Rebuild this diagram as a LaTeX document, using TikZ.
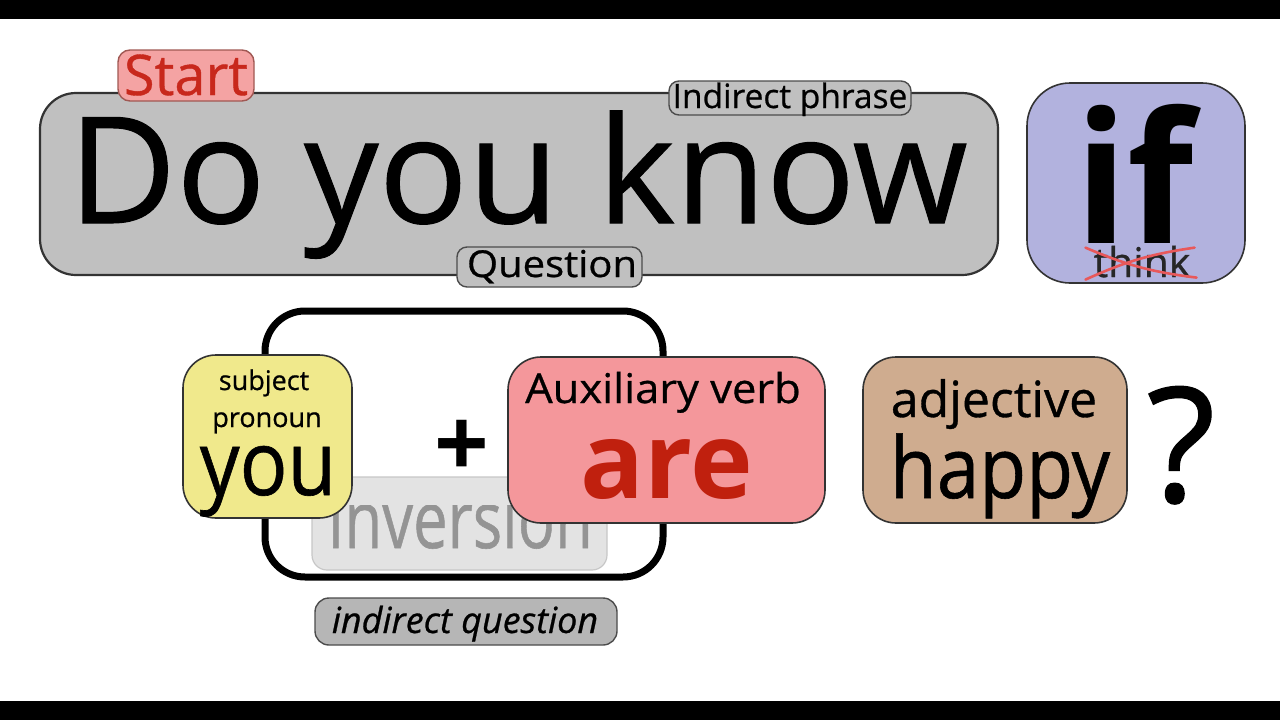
\documentclass[tikz,border=0pt]{standalone}
\usepackage{fontspec}
\setmainfont{Open Sans}
\newfontfamily\medfont{Open Sans}[FakeBold=0.7]
\usepackage{xcolor}
\definecolor{boxgray}{HTML}{C0C0C0}
\definecolor{startpink}{HTML}{F4A3A3}
\definecolor{startred}{HTML}{C8281C}
\definecolor{iflilac}{HTML}{B2B2DE}
\definecolor{pronyellow}{HTML}{F0E98C}
\definecolor{auxpink}{HTML}{F4979B}
\definecolor{arered}{HTML}{C0200E}
\definecolor{adjtan}{HTML}{CFAC8F}
\definecolor{invgray}{HTML}{E3E3E3}
\definecolor{crossred}{HTML}{E8585A}

\newcommand{\fsz}[1]{\fontsize{#1}{#1}\selectfont}

\tikzset{
	box/.style={draw=black!80, line width=1.6pt, rounded corners=33pt, inner sep=0pt},
	tag/.style={draw=black!70, line width=1.4pt, rounded corners=10pt, inner sep=0pt},
	word/.style={inner sep=0pt, anchor=base, font=\medfont},
	heavy/.style={font=\rmfamily\bfseries},
	strike/.style={draw=crossred, line width=2.6pt, line cap=round},
}

\begin{document}
\begin{tikzpicture}[x=1pt, y=-1pt]
	\fill[white] (0,0) rectangle (1280,720);
	\fill[black] (0,0) rectangle (1280,19);
	\fill[black] (0,701) rectangle (1280,720);
	% indirect phrase
	\node[box, fill=boxgray, rounded corners=36pt, line width=2.2pt,
		minimum width=958pt, minimum height=182pt] (phrase) at (519,184) {};
	\node[word] (doyouknow) at (518,223) {\fsz{148}Do you know};
	\node[tag, fill=startpink, draw=startred!45!gray, rounded corners=12pt,
		minimum width=136pt, minimum height=51pt] (starttag) at (186,75.5) {};
	\node[word, text=startred] (start) at (186,95) {\fsz{56}Start};
	\node[tag, fill=boxgray, minimum width=242pt, minimum height=34pt] (phrasetag) at (790,98) {};
	\node[word] (indphrase) at (790,108) {\fsz{33.5}Indirect phrase};
	\node[tag, fill=boxgray, minimum width=185pt, minimum height=40pt] (questiontag) at (549.5,267) {};
	\node[word] (question) at (552,277) {\scalebox{1.08}[1]{\fsz{37}Question}};
	% if
	\node[box, fill=iflilac, rounded corners=43pt, minimum width=218pt, minimum height=200pt] (ifbox) at (1136,183) {};
	\node[word, heavy] (if) at (1135,243) {\scalebox{0.94}[1]{\fsz{182}if}};
	\node[word, text=black!85] (think) at (1142,277) {\fsz{41}think};
	\draw[strike] ([xshift=-8pt,yshift=-2pt]think.north west) to[bend right=8] ([xshift=6pt]think.south east);
	\draw[strike] ([xshift=-8pt,yshift=-2pt]think.south west) to[bend left=8] ([xshift=4pt,yshift=-2pt]think.north east);
	% inversion
	\node[draw, line width=7pt, rounded corners=40pt, minimum width=398pt, minimum height=266pt] (frame) at (464,444) {};
	\node[draw=black!22, fill=invgray, line width=1.2pt, rounded corners=15pt,
		minimum width=295pt, minimum height=93pt] (invbox) at (459.5,523.5) {};
	\begin{scope}
		\clip (311,505) rectangle (607,572);
		\node[word, text=black!42] (inversion) at (460,548) {\scalebox{0.77}[1]{\fsz{80}Inversion}};
	\end{scope}
	\node[box, fill=pronyellow, minimum width=169pt, minimum height=163pt] (pronbox) at (267.5,436.5) {};
	\node[word] (subject) at (264,390) {\fsz{27}subject};
	\node[word] (pronoun) at (267,427) {\fsz{27}pronoun};
	\node[word] (you) at (268,495) {\scalebox{0.88}[1]{\fsz{90}you}};
	\node[word, heavy] (plus) at (462,477) {\fsz{96}+};
	\node[box, fill=auxpink, minimum width=317pt, minimum height=166pt] (auxbox) at (666.5,440) {};
	\node[word] (auxverb) at (663,403) {\scalebox{1.06}[1]{\fsz{41}Auxiliary verb}};
	\node[word, heavy, text=arered] (are) at (667,498) {\fsz{106}are};
	% adjective
	\node[box, fill=adjtan, minimum width=264pt, minimum height=166pt] (adjbox) at (995,440) {};
	\node[word] (adjective) at (994,417) {\fsz{50}adjective};
	\node[word] (happy) at (1000,498) {\scalebox{0.9}[1]{\fsz{85}happy}};
	\node[word] (qmark) at (1181,502) {\fsz{160}?};
	% label
	\node[tag, fill=boxgray!95!black, rounded corners=14pt, minimum width=302pt, minimum height=47pt] (questag) at (466,621.5) {};
	\node[word] (indquestion) at (465,633) {\fsz{36}\itshape indirect question};
\end{tikzpicture}
\end{document}
